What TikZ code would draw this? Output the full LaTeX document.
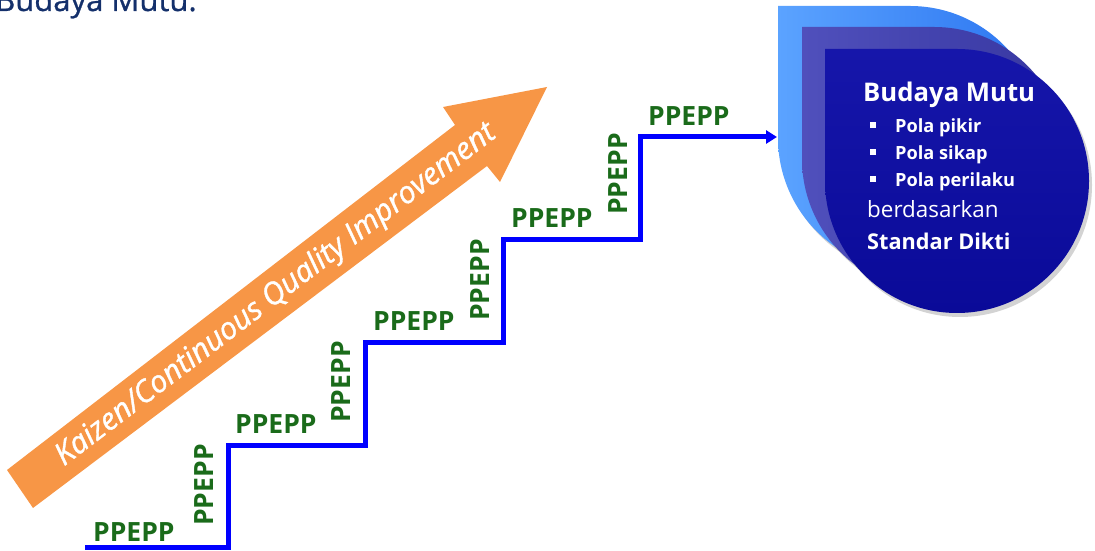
\documentclass[tikz,border=0pt]{standalone}
\usepackage{fontspec}
\setmainfont{Open Sans}
\newfontfamily\kzfont[FakeBold=1.2]{Open Sans}
\newfontfamily\ttlfont[FakeBold=0.8]{Open Sans}
\usetikzlibrary{arrows.meta,shadows}
\definecolor{orangeA}{HTML}{F79646}
\definecolor{stairblue}{HTML}{0000FF}
\definecolor{ppgreen}{HTML}{1A6B1A}
\definecolor{navytitle}{HTML}{14306B}
\definecolor{dropA}{HTML}{2A74F0}
\definecolor{dropAl}{HTML}{5BA3FF}
\definecolor{dropB}{HTML}{3636A0}
\definecolor{dropBl}{HTML}{5050BC}
\definecolor{dropC}{HTML}{0A0A98}
\definecolor{dropCl}{HTML}{1616AA}
\begin{document}
\begin{tikzpicture}[x=1pt,y=1pt,
  lbl/.style={font=\fontsize{26.5}{31}\selectfont\bfseries, text=ppgreen, inner sep=0pt},
  hlbl/.style={lbl, anchor=base west},
  vlbl/.style={lbl, rotate=90, anchor=center},
  stair/.style={draw=stairblue, line width=5pt, -{Triangle[length=11pt,width=13pt]}},
  dropshadow/.style={drop shadow={opacity=0.35, shadow xshift=3pt, shadow yshift=-4pt}},
  droptext/.style={text=white, inner sep=0pt, anchor=base west},
  bul/.style={droptext, font=\fontsize{18.2}{22}\selectfont\bfseries}
]
\useasboundingbox (0,0) rectangle (1095,551);
\clip (0,0) rectangle (1095,551);

% title (cut off at top)
\node[anchor=base west, font=\ttlfont\fontsize{31}{36}\selectfont, text=navytitle, inner sep=0pt] (title) at (-5,540) {Budaya Mutu.};

% orange arrow
\fill[orangeA] (7,81) -- (33,43) -- (487,385) -- (500,369) -- (547,464) -- (443,444) -- (455,426) -- cycle;
\node[rotate=37.3, text=white, font=\kzfont\fontsize{30.5}{36}\selectfont\itshape, inner sep=0pt] (kaizen) at (276,256) {Kaizen/Continuous Quality Improvement};

% teardrop shapes
\path[dropshadow, left color=dropAl, right color=dropA] (778,545) -- (910,545) arc[start angle=90, end angle=-180, radius=132] -- cycle;
\path[dropshadow, left color=dropBl, right color=dropB] (802,524) -- (934,524) arc[start angle=90, end angle=-180, radius=132] -- cycle;
\path[dropshadow, top color=dropCl, bottom color=dropC] (825,502) -- (957,502) arc[start angle=90, end angle=-180, radius=132] -- cycle;
\coordinate (goal) at (777,414);

% stair connector
\coordinate (stairStart) at (85,3);
\draw[stair] (stairStart) -| (228,105) -| (365,208) -| (503,311) -| (640,414) -- (goal);

% horizontal labels
\node[hlbl] (h1) at (93,9) {PPEPP};
\node[hlbl] (h2) at (235,117) {PPEPP};
\node[hlbl] (h3) at (373,220) {PPEPP};
\node[hlbl] (h4) at (511,323) {PPEPP};
\node[hlbl] (h5) at (648,425) {PPEPP};
% vertical labels
\node[vlbl] (v1) at (204,66) {PPEPP};
\node[vlbl] (v2) at (341,169) {PPEPP};
\node[vlbl] (v3) at (480,271) {PPEPP};
\node[vlbl] (v4) at (618,377) {PPEPP};

% text in front shape
\node[droptext, font=\fontsize{25.7}{30}\selectfont\bfseries] (bm) at (863,449) {Budaya Mutu};
\node[bul] (b1) at (870,418) {\rule[5pt]{6pt}{6pt}\hspace{19pt}Pola pikir};
\node[bul] (b2) at (870,391) {\rule[5pt]{6pt}{6pt}\hspace{19pt}Pola sikap};
\node[bul] (b3) at (870,364) {\rule[5pt]{6pt}{6pt}\hspace{19pt}Pola perilaku};
\node[droptext, font=\fontsize{22.4}{27}\selectfont] (bd) at (867,333) {berdasarkan};
\node[droptext, font=\fontsize{21.7}{26}\selectfont\bfseries] (sd) at (867,301) {Standar Dikti};
\end{tikzpicture}
\end{document}
